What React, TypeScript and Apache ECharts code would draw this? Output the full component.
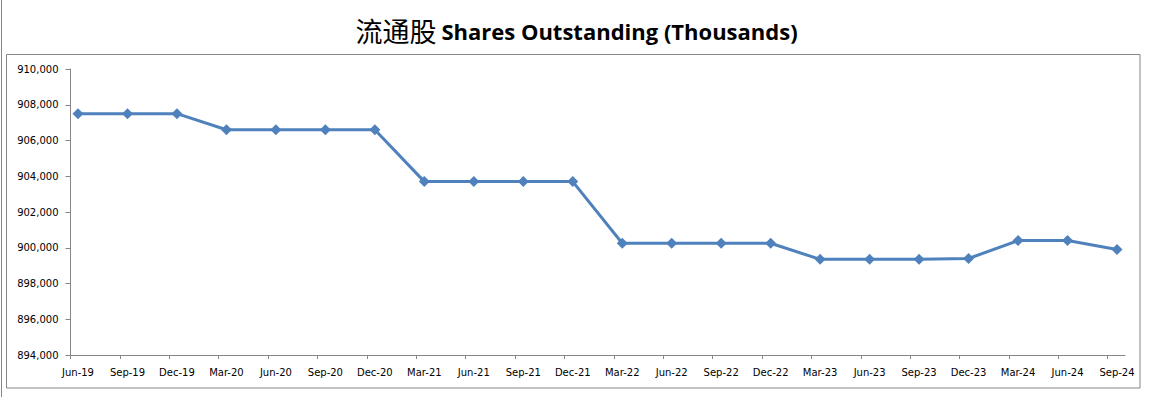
import React, { useEffect, useRef } from "react";
import * as echarts from "echarts";

const categories = [
  "Jun-19", "Sep-19", "Dec-19", "Mar-20", "Jun-20", "Sep-20", "Dec-20",
  "Mar-21", "Jun-21", "Sep-21", "Dec-21", "Mar-22", "Jun-22", "Sep-22",
  "Dec-22", "Mar-23", "Jun-23", "Sep-23", "Dec-23", "Mar-24", "Jun-24", "Sep-24",
];
const sharesOutstanding = [
  907500, 907500, 907500, 906600, 906600, 906600, 906600,
  903700, 903700, 903700, 903700, 900250, 900250, 900250,
  900250, 899350, 899350, 899350, 899400, 900400, 900400, 899900,
];
const yMin = 894000;
const yMax = 910000;
const yStep = 2000;

const AXIS_COLOR = "#868686";
const LINE_COLOR = "#4F81BD";

export default function App() {
  const ref = useRef<HTMLDivElement>(null);
  useEffect(() => {
    document.body.style.margin = "0";
    const chart = echarts.init(ref.current!, null, { renderer: "svg" });
    const tickIdx = categories.map((_, i) => i);
    chart.setOption({
      animation: false,
      backgroundColor: "#ffffff",
      title: {
        left: "center",
        top: 12,
        text: "{a|流通股} {b|Shares Outstanding (Thousands)}",
        textStyle: {
          rich: {
            a: { fontFamily: "Noto Sans CJK SC", fontSize: 27, color: "#000", fontWeight: "normal" },
            b: { fontFamily: "Open Sans", fontSize: 22, color: "#000", fontWeight: "bold" },
          },
        },
      },
      graphic: [
        { type: "line", shape: { x1: 1.5, y1: 0, x2: 1.5, y2: 397 }, style: { stroke: AXIS_COLOR, lineWidth: 1 }, silent: true },
        { type: "rect", shape: { x: 6.5, y: 54.5, width: 1133.5, height: 333.5 }, style: { fill: "none", stroke: AXIS_COLOR, lineWidth: 1 }, silent: true },
      ],
      grid: [
        { left: 78, right: 36, top: 69, bottom: 42 },
        { left: 70.5, right: 28, top: 69, bottom: 42 },
      ],
      xAxis: [
        {
          type: "category",
          gridIndex: 0,
          data: categories,
          boundaryGap: false,
          axisLine: { show: false },
          axisTick: { show: false },
          splitLine: { show: false },
          axisLabel: { color: "#000", fontFamily: "DejaVu Sans", fontSize: 10, margin: 12, interval: 0 },
        },
        {
          type: "value",
          gridIndex: 1,
          min: 0,
          max: 21.35,
          interval: 1,
          axisLine: { show: true, lineStyle: { color: AXIS_COLOR, width: 1 } },
          axisTick: { show: true, length: 4, lineStyle: { color: AXIS_COLOR }, customValues: tickIdx },
          axisLabel: { show: false },
          splitLine: { show: false },
        },
      ],
      yAxis: [
        { type: "value", gridIndex: 0, min: yMin, max: yMax, interval: yStep, show: false, splitLine: { show: false } },
        {
          type: "value",
          gridIndex: 1,
          min: yMin,
          max: yMax,
          interval: yStep,
          axisLine: { show: true, lineStyle: { color: AXIS_COLOR, width: 1 } },
          axisTick: { show: true, length: 5, lineStyle: { color: AXIS_COLOR } },
          splitLine: { show: false },
          axisLabel: {
            color: "#000",
            fontFamily: "DejaVu Sans",
            fontSize: 10,
            margin: 12,
            formatter: (v: number) => v.toLocaleString("en-US"),
          },
        },
      ],
      series: [
        {
          type: "line",
          xAxisIndex: 0,
          yAxisIndex: 0,
          data: sharesOutstanding,
          symbol: "diamond",
          symbolSize: 11,
          showAllSymbol: true,
          lineStyle: { color: LINE_COLOR, width: 3 },
          itemStyle: { color: LINE_COLOR },
        },
      ],
    });
    return () => chart.dispose();
  }, []);
  return <div ref={ref} style={{ width: 1153, height: 397 }} />;
}
